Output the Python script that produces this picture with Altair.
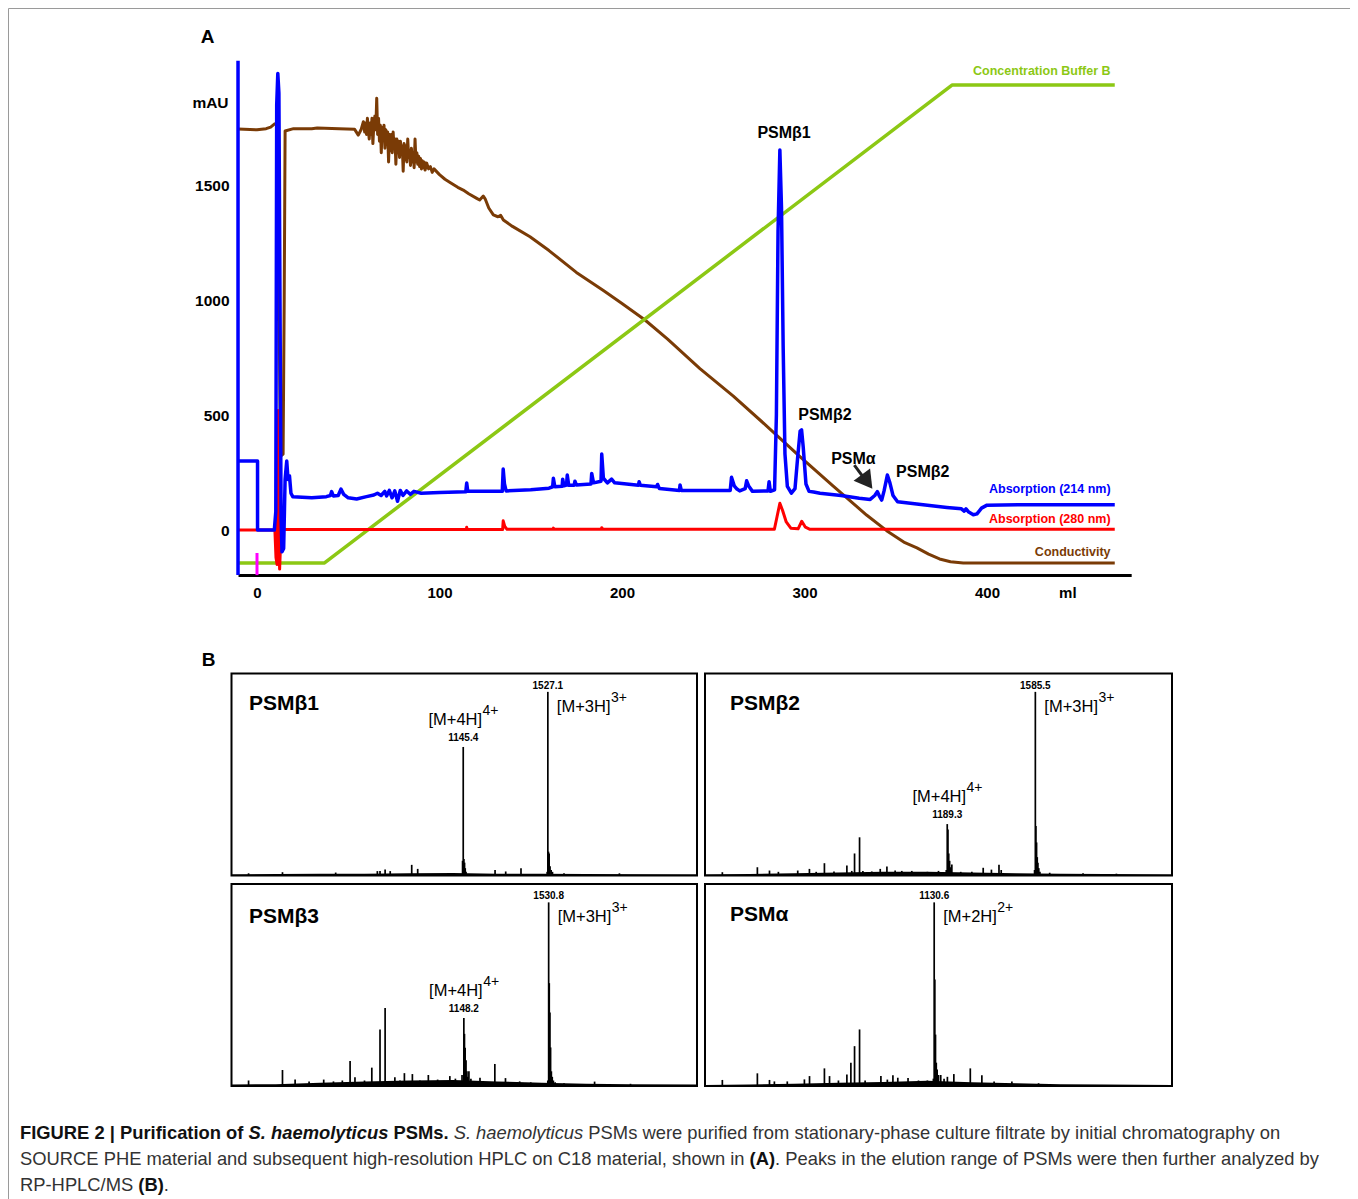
import altair as alt
import pandas as pd

FONT = "Liberation Sans"
W, H = 1342, 1196
M = 8


def cx(p):
    return p - M


def cy(p):
    return p - M


BLUE = "#0000ff"
RED = "#ff0000"
GREEN = "#8cc814"
BROWN = "#7a3b06"
MAGENTA = "#ff00ff"

# ---------------- Panel A : chromatogram ----------------
BLUE_ML = [-10.4, 0.3, 0.3, 9.5, 10.3, 10.8, 11.4, 12.0, 12.6,
           13.2, 13.7, 14.6, 15.4, 16.3, 17.0, 17.8, 18.6, 19.6, 30,
           38, 40.2, 40.9, 41.8, 44.5, 46, 47.5, 50, 54.6, 60,
           64, 66, 68, 70, 71, 72.5, 74, 75.5, 77, 78.5,
           80, 82, 84, 86, 90, 100, 114.4, 114.9, 115.5, 134.4,
           134.9, 135.6, 136.5, 150, 160, 162.0, 162.4, 163.2, 167.2, 167.5,
           168.2, 169.6, 170, 170.8, 173.8, 174.2, 175, 183, 183.4, 184.4,
           188.5, 188.9, 189.8, 192, 194.3, 196, 209, 209.4, 210, 219,
           219.5, 220.5, 231.5, 231.8, 232.5, 259.3, 260, 261.5, 263, 264.5,
           267.5, 268.3, 269.5, 271.5, 280, 280.6, 281.3, 283.6, 284.6, 285.5,
           286.5, 287.4, 288.3, 289.3, 290.6, 292.8, 294.8, 296.3, 297.6, 298.4,
           299.3, 300.8, 302.5, 305, 308.5, 320, 330, 336, 338.5, 339.9,
           341.2, 342.3, 343.6, 345.4, 346.8, 348.5, 351, 365, 378, 386,
           387.5, 388.5, 390, 392.5, 394.5, 397, 400, 420, 470]
BLUE_MAU = [300, 300, 0, 0, 80, 1850, 1985, 1900, 1000,
            50, -95, -80, 220, 300, 220, 235, 160, 145, 140,
            145, 150, 167, 148, 150, 178, 155, 140, 135, 145,
            152, 160, 150, 168, 148, 172, 140, 170, 125, 172,
            150, 170, 155, 168, 160, 163, 166, 204, 168, 168,
            265, 200, 170, 175, 182, 188, 225, 188, 190, 221,
            192, 195, 239, 195, 195, 212, 196, 200, 246, 205,
            212, 330, 225, 205, 221, 205, 195, 210, 195, 188,
            198, 180, 172, 196, 172, 172, 229, 192, 178, 170,
            180, 214, 190, 168, 170, 210, 168, 175, 500, 1300,
            1652, 1400, 800, 330, 190, 160, 180, 320, 430, 435,
            360, 200, 168, 165, 160, 150, 138, 133, 150, 167,
            145, 130, 170, 239, 205, 150, 123, 110, 98, 92,
            82, 92, 78, 66, 70, 95, 108, 110, 110]

# saturated 214 nm signal drawn as the left edge of the plot
BLUE_EDGE_ML = [-10.4]
BLUE_EDGE_FROM = [-196]
BLUE_EDGE_TO = [2040]

RED_ML = [-10.4, 9.8, 10.4, 11.0, 11.6, 12.0, 12.4, 13.2, 114.7, 114.9,
          115.2, 134.6, 134.9, 135.8, 137, 162.2, 162.4, 162.8, 188.7, 188.9,
          189.5, 283.5, 285, 286.5, 288, 290, 292.5, 296.5, 298.5, 300.5,
          303, 470]
RED_MAU = [0, 0, -120, -150, 520, -60, -170, 2, 2, 12,
           2, 2, 40, 15, 3, 3, 8, 3, 3, 10,
           3, 3, 60, 116, 85, 35, 8, 5, 38, 12,
           3, 3]

GREEN_ML = [-10.4, 37, 381, 470]
GREEN_MAU = [-143, -143, 1935, 1935]

BROWN_START_ML = [-10.4, 0, 5, 7.5, 9.5, 11.3, 12.2, 12.8, 14.3, 14.9,
                  15.4, 20, 30, 33, 45, 53.5, 55.5, 57]
BROWN_START_MAU = [1743, 1740, 1745, 1752, 1765, 1768, 900, 320, 330, 1000,
                   1735, 1745, 1745, 1748, 1745, 1742, 1717, 1740]
BROWN_NOISE_ML = [58.3, 59, 59.5, 60, 60.5, 61, 61.5, 62, 62.5, 63,
                  63.5, 64, 64.6, 65.1, 65.6, 66.1, 66.6, 67.1, 67.6, 68.1,
                  68.6, 69.1, 69.6, 70.1, 70.6, 71.1, 71.6, 72.1, 72.6, 73.1,
                  73.6, 74.1, 74.6, 75.1, 75.6, 76.1, 76.6, 77.1, 77.6, 78.1,
                  78.6, 79.1, 79.6, 80.1, 80.6, 81.1, 81.6, 82.1, 82.6, 83.1,
                  83.6, 84.1, 84.6, 85.1, 85.6, 86.1, 86.6, 87.1, 87.6, 88.1,
                  88.6, 89.1, 89.6, 90.1, 90.6, 91.1, 91.6, 92.1, 93, 94,
                  95, 96, 97]
BROWN_NOISE_MAU = [1775, 1730, 1770, 1720, 1790, 1740, 1700, 1770, 1720, 1790,
                   1680, 1760, 1800, 1740, 1877, 1720, 1790, 1690, 1760, 1640,
                   1750, 1700, 1760, 1660, 1740, 1690, 1730, 1600, 1720, 1650,
                   1720, 1640, 1730, 1660, 1700, 1590, 1700, 1640, 1690, 1620,
                   1690, 1640, 1670, 1560, 1680, 1610, 1670, 1600, 1700, 1620,
                   1650, 1585, 1660, 1600, 1640, 1575, 1700, 1600, 1640, 1590,
                   1625, 1580, 1615, 1570, 1605, 1575, 1600, 1565, 1595, 1570,
                   1580, 1555, 1570]
BROWN_END_ML = [100, 103, 106, 108, 110, 113, 116, 120.4, 122, 124,
                125, 127, 129.5, 132, 133.5, 135, 140, 149.6, 160, 175,
                190, 200, 212.6, 225, 242.7, 261, 279, 297.5, 315.6, 334,
                345, 355, 361.6, 368, 374, 380, 387, 470]
BROWN_END_MAU = [1545, 1525, 1510, 1500, 1490, 1478, 1462, 1442, 1435, 1452,
                 1440, 1400, 1370, 1362, 1368, 1348, 1320, 1275, 1215, 1120,
                 1040, 985, 913, 830, 702, 582, 454, 319, 192, 65,
                 -3, -55, -78, -105, -126, -138, -143, -143]

INJECT_ML = [0]
INJECT_FROM = [-100]
INJECT_TO = [-196]

TICKS_ML = [0, 100, 200, 300, 400]
UNIT_ML_POS = 444
TICKS_MAU = [0, 500, 1000, 1500]

PEAK_TEXT = ["PSMβ1", "PSMβ2", "PSMα", "PSMβ2"]
PEAK_TEXT_ML = [288.8, 311.2, 326.8, 364.8]
PEAK_TEXT_MAU = [1726, 500, 309, 252]

SERIES_TEXT = ["Concentration Buffer B", "Absorption (214 nm)", "Absorption (280 nm)", "Conductivity"]
SERIES_COLOR = [GREEN, BLUE, RED, BROWN]
SERIES_MAU = [1996, 178, 50, -96]
SERIES_ML = [467.7, 467.7, 467.7, 467.7]

ARROW_FROM = (327.3, 282)
ARROW_TO = (332.0, 232)
ARROW_HEAD = (334.3, 210)

# ---------------- Panel B : mass spectra ----------------
MZ_LO, MZ_HI = 100, 2200
INT_TOP = 110

B1_MZ = [177, 330, 570, 758, 770, 793, 816, 913, 940, 1142.4,
         1145.4, 1148.4, 1151.4, 1154.4, 1158, 1289, 1337, 1406, 1524, 1527.1,
         1530, 1533, 1537, 1542, 1548, 1600, 1850]
B1_INT = [1.2, 1.8, 1.6, 2.4, 2.4, 3.3, 2.4, 5.8, 3.6, 8,
          70, 9, 7, 4, 2, 3, 2.2, 4, 2, 100,
          13, 12, 5, 3, 2, 1.2, 1.2]

B2_MZ = [178, 335.5, 390, 430, 517, 569.6, 600, 637, 680, 738,
         760, 772.5, 795, 810, 850, 888, 918, 955, 985, 1030,
         1100, 1150, 1185, 1189.3, 1192.5, 1196, 1200, 1205, 1210, 1250,
         1300, 1351, 1388, 1422, 1432, 1582, 1585.5, 1588, 1591, 1594,
         1597, 1601, 1606, 1650, 1800, 1950]
B2_INT = [1.8, 4.5, 2.7, 2, 2.7, 3.6, 2.0, 6.7, 2.2, 5.4,
          2.5, 12, 20.8, 2.5, 2.2, 3.6, 4.9, 2.7, 2.5, 2.5,
          2, 2.5, 3, 28, 25, 12, 8, 4.5, 6, 2,
          2, 4.2, 3.2, 5.8, 3, 3, 100, 27, 18, 10,
          7, 4, 2, 1.5, 1.2, 1.0]

B3_MZ = [177, 330, 387, 450, 516, 560, 600, 635, 657, 700,
         733, 770, 793, 837, 860, 880, 916, 950, 988, 1030,
         1085, 1110, 1140, 1148.2, 1151, 1154, 1158, 1162, 1166, 1171,
         1180, 1221, 1288, 1336, 1400, 1450, 1527, 1530.8, 1533.5, 1536.5,
         1539.5, 1543, 1547, 1552, 1560, 1600, 1738, 1900]
B3_INT = [3, 8.7, 3.5, 2.5, 3.5, 2.5, 3, 13.6, 4.7, 3,
          10, 30.8, 42.5, 4.7, 3, 7, 6.5, 3, 6, 3.5,
          5.4, 4, 6, 37, 28.4, 20.8, 14, 8, 5, 8,
          4, 4.5, 12, 4.3, 2.5, 2, 3, 100, 56, 40,
          21, 8, 5, 3, 2, 1.5, 2.4, 1.2]

BA_MZ = [178, 335.5, 390, 412, 470, 547, 570, 637, 660, 700,
         738, 756, 772.5, 795, 820, 891, 920, 945, 967, 1013,
         1060, 1100, 1127, 1130.6, 1133.5, 1136.5, 1140, 1144, 1150, 1160,
         1175, 1190, 1219, 1293, 1345, 1400, 1480, 1600]
BA_INT = [3.3, 6.9, 3.3, 2.5, 2.5, 3.6, 5.4, 9.6, 5.4, 3,
          6.3, 12.7, 21.7, 30.8, 3, 5.4, 3.5, 5.8, 4.5, 4.3,
          3, 3, 4, 100, 58, 28, 12.7, 9, 6, 6,
          4, 5, 6.5, 9.6, 5.8, 2.5, 2.5, 1.5]

BASE_MZ = [100, 300, 500, 700, 900, 1100, 1300, 1500, 1700, 1900, 2200]
B1_BASE = [0.6, 0.8, 0.9, 1.0, 1.2, 1.4, 1.0, 1.0, 0.8, 0.7, 0.6]
B2_BASE = [0.6, 0.8, 1.2, 1.6, 2.0, 2.0, 1.6, 1.2, 1.0, 0.8, 0.6]
B3_BASE = [0.8, 1.0, 1.8, 2.5, 3.0, 3.2, 2.5, 1.8, 1.2, 1.0, 0.8]
BA_BASE = [0.6, 0.8, 1.2, 1.8, 2.2, 2.8, 2.0, 1.5, 1.0, 0.8, 0.6]

# annotated peaks: (m/z, intensity, value label, ion, charge, placement)
B1_ANN = [(1527.1, 100, "1527.1", "[M+3H]", "3+", "right"),
          (1145.4, 70, "1145.4", "[M+4H]", "4+", "center")]
B2_ANN = [(1585.5, 100, "1585.5", "[M+3H]", "3+", "right"),
          (1189.3, 28, "1189.3", "[M+4H]", "4+", "center")]
B3_ANN = [(1530.8, 100, "1530.8", "[M+3H]", "3+", "right"),
          (1148.2, 37, "1148.2", "[M+4H]", "4+", "center")]
BA_ANN = [(1130.6, 100, "1130.6", "[M+2H]", "2+", "right")]

BROWN_ML = BROWN_START_ML + BROWN_NOISE_ML + BROWN_END_ML
BROWN_MAU = BROWN_START_MAU + BROWN_NOISE_MAU + BROWN_END_MAU

for a, b in [(BLUE_ML, BLUE_MAU), (RED_ML, RED_MAU), (BROWN_ML, BROWN_MAU), (GREEN_ML, GREEN_MAU),
             (B1_MZ, B1_INT), (B2_MZ, B2_INT), (B3_MZ, B3_INT), (BA_MZ, BA_INT)]:
    assert len(a) == len(b)

# ---------------- caption ----------------
CAPTION = [
    [("FIGURE 2 | Purification of ", True, False), ("S. haemolyticus", True, True), (" PSMs.", True, False),
     (" ", False, False), ("S. haemolyticus", False, True),
     (" PSMs were purified from stationary-phase culture filtrate by initial chromatography on", False, False)],
    [("SOURCE PHE material and subsequent high-resolution HPLC on C18 material, shown in ", False, False),
     ("(A)", True, False), (". Peaks in the elution range of PSMs were then further analyzed by", False, False)],
    [("RP-HPLC/MS ", False, False), ("(B)", True, False), (".", False, False)],
]

# ---------------- text metrics (Arial / Liberation Sans) ----------------
REG_W = {c: 556 for c in "0123456789"}
REG_W.update({' ': 278, '!': 278, '(': 333, ')': 333, '+': 584, ',': 278, '-': 333, '.': 278, '/': 278,
              ':': 278, '[': 278, ']': 278, '|': 260,
              'A': 667, 'B': 667, 'C': 722, 'D': 722, 'E': 667, 'F': 611, 'G': 778, 'H': 722, 'I': 278,
              'J': 500, 'K': 667, 'L': 556, 'M': 833, 'N': 722, 'O': 778, 'P': 667, 'Q': 778, 'R': 722,
              'S': 667, 'T': 611, 'U': 722, 'V': 667, 'W': 944, 'X': 667, 'Y': 667, 'Z': 611,
              'a': 556, 'b': 556, 'c': 500, 'd': 556, 'e': 556, 'f': 278, 'g': 556, 'h': 556, 'i': 222,
              'j': 222, 'k': 500, 'l': 222, 'm': 833, 'n': 556, 'o': 556, 'p': 556, 'q': 556, 'r': 333,
              's': 500, 't': 278, 'u': 556, 'v': 500, 'w': 722, 'x': 500, 'y': 500, 'z': 500})
BOLD_W = dict(REG_W)
BOLD_W.update({'!': 333, ':': 333, '[': 333, ']': 333, '|': 280, 'A': 722, 'B': 722, 'J': 556, 'K': 722,
               'L': 611, 'b': 611, 'c': 556, 'd': 611, 'f': 333, 'g': 611, 'h': 611, 'i': 278, 'j': 278,
               'k': 556, 'l': 278, 'm': 889, 'n': 611, 'o': 611, 'p': 611, 'q': 611, 'r': 389, 's': 556,
               't': 333, 'u': 611, 'v': 556, 'w': 778, 'x': 556, 'y': 556})


def text_w(s, bold, fs):
    tbl = BOLD_W if bold else REG_W
    return sum(tbl.get(c, 556) for c in s) * fs / 1000.0


layers = []

# ================= Panel A =================
A_X0, A_KX = 257, 1.825
A_Y0, A_KY = 530, 0.23
XA = alt.Scale(domain=[-10.4, 479], range=[cx(A_X0 - 10.4 * A_KX), cx(A_X0 + 479 * A_KX)], nice=False, zero=False)
YA = alt.Scale(domain=[0, 1500], range=[cy(A_Y0), cy(A_Y0 - 1500 * A_KY)], nice=False, zero=False)

X_AXIS = alt.Axis(values=TICKS_ML + [UNIT_ML_POS],
                  labelExpr="datum.value == %d ? 'ml' : datum.label" % UNIT_ML_POS,
                  orient="bottom", offset=cy(575) - H, domainColor="black", domainWidth=3,
                  ticks=False, labelFontSize=15, labelFontWeight="bold", labelFont=FONT,
                  labelColor="black", labelPadding=10, grid=False, title=None,
                  labelOverlap=False, labelFlush=False, format="d")
Y_AXIS = alt.Axis(values=TICKS_MAU, orient="left", offset=-cx(229), domain=False, ticks=False,
                  tickSize=0, labelPadding=0, labelFontSize=15.5, labelFontWeight="bold",
                  labelFont=FONT, labelColor="black", grid=False, title=None,
                  labelOverlap=False, labelFlush=False, format="d")


def ax_x(f="ml:Q", axis=None):
    return alt.X(f, scale=XA, axis=axis)


def ax_y(f="mau:Q", axis=None):
    return alt.Y(f, scale=YA, axis=axis)


def trace(ml, mau, color, width, with_axes=False):
    df = pd.DataFrame({"ml": ml, "mau": mau, "i": list(range(len(ml)))})
    return alt.Chart(df).mark_line(color=color, strokeWidth=width, strokeJoin="round").encode(
        x=ax_x(axis=X_AXIS if with_axes else None),
        y=ax_y(axis=Y_AXIS if with_axes else None),
        order=alt.Order("i:Q"))


layers.append(trace(BROWN_ML, BROWN_MAU, BROWN, 3))
layers.append(trace(GREEN_ML, GREEN_MAU, GREEN, 3.5))
layers.append(trace(RED_ML, RED_MAU, RED, 3))
layers.append(trace(BLUE_ML, BLUE_MAU, BLUE, 3.5, with_axes=True))
layers.append(alt.Chart(pd.DataFrame({"ml": BLUE_EDGE_ML, "a": BLUE_EDGE_FROM, "b": BLUE_EDGE_TO}))
              .mark_rule(color=BLUE, strokeWidth=3.5)
              .encode(x=ax_x(), y=ax_y("a:Q"), y2="b:Q"))

layers.append(alt.Chart(pd.DataFrame({"ml": INJECT_ML, "a": INJECT_FROM, "b": INJECT_TO}))
              .mark_rule(color=MAGENTA, strokeWidth=3)
              .encode(x=ax_x(), y=ax_y("a:Q"), y2="b:Q"))

# arrow toward PSMalpha
layers.append(alt.Chart(pd.DataFrame({"ml": [ARROW_FROM[0]], "mau": [ARROW_FROM[1]],
                                      "ml2": [ARROW_TO[0]], "mau2": [ARROW_TO[1]]}))
              .mark_rule(color="#222222", strokeWidth=3)
              .encode(x=ax_x(), y=ax_y(), x2="ml2:Q", y2="mau2:Q"))
layers.append(alt.Chart(pd.DataFrame({"ml": [ARROW_HEAD[0]], "mau": [ARROW_HEAD[1]]}))
              .mark_point(shape="triangle-up", filled=True, size=420, angle=143.6, color="#222222", opacity=1)
              .encode(x=ax_x(), y=ax_y()))

layers.append(alt.Chart(pd.DataFrame({"ml": PEAK_TEXT_ML, "mau": PEAK_TEXT_MAU, "t": PEAK_TEXT}))
              .mark_text(font=FONT, fontSize=16, fontWeight="bold", color="black", align="center", baseline="middle")
              .encode(x=ax_x(), y=ax_y(), text="t:N"))

layers.append(alt.Chart(pd.DataFrame({"ml": SERIES_ML, "mau": SERIES_MAU, "t": SERIES_TEXT, "c": SERIES_COLOR}))
              .mark_text(font=FONT, fontSize=12.5, fontWeight="bold", align="right", baseline="middle")
              .encode(x=ax_x(), y=ax_y(), text="t:N", color=alt.Color("c:N", scale=None)))

layers.append(alt.Chart(pd.DataFrame({"ml": [-25.5], "mau": [1857], "t": ["mAU"]}))
              .mark_text(font=FONT, fontSize=15.5, fontWeight="bold", color="black", align="center", baseline="middle")
              .encode(x=ax_x(), y=ax_y(), text="t:N"))

# panel letters
layers.append(alt.Chart(pd.DataFrame({"px": [cx(207.5), cx(208.5)], "py": [cy(37), cy(660)], "t": ["A", "B"]}))
              .mark_text(font=FONT, fontSize=19, fontWeight="bold", color="black", align="center", baseline="middle")
              .encode(x=alt.X("px:Q", scale=None, axis=None), y=alt.Y("py:Q", scale=None, axis=None), text="t:N"))

# ================= Panel B =================
GEOM = {
    "b1": (231.5, 697, 673.5, 875.5, 17.5, 30),
    "b2": (705, 1172, 673.5, 875.5, 25, 30),
    "b3": (231.5, 697, 884, 1086, 17.5, 33),
    "ba": (705, 1172, 884, 1086, 25, 31),
}
ION_FS, SUP_FS = 16.5, 14


def spectrum(key, name, mz, inten, base, ann):
    l, r, t, b, ndx, ndy = GEOM[key]
    XS = alt.Scale(domain=[MZ_LO, MZ_HI], range=[cx(l), cx(r)], nice=False, zero=False)
    YS = alt.Scale(domain=[0, INT_TOP], range=[cy(b), cy(t)], nice=False, zero=False)
    kx = (r - l) / (MZ_HI - MZ_LO)
    ky = (b - t) / INT_TOP

    def enc_xy(xf, yf):
        return dict(x=alt.X(xf, type="quantitative", scale=XS, axis=None),
                    y=alt.Y(yf, type="quantitative", scale=YS, axis=None))

    out = []
    out.append(alt.Chart(pd.DataFrame({"mz": BASE_MZ, "h": base, "z": [0] * len(BASE_MZ)}))
               .mark_area(color="black").encode(y2="z:Q", **enc_xy("mz", "h")))
    out.append(alt.Chart(pd.DataFrame({"mz": mz, "h": inten, "z": [0] * len(mz)}))
               .mark_rule(color="black", strokeWidth=1.7).encode(y2="z:Q", **enc_xy("mz", "h")))
    out.append(alt.Chart(pd.DataFrame({"x0": [MZ_LO], "x1": [MZ_HI], "y0": [0], "y1": [INT_TOP]}))
               .mark_rect(fillOpacity=0, stroke="black", strokeWidth=2)
               .encode(x2="x1:Q", y2="y1:Q", **enc_xy("x0", "y0")))
    out.append(alt.Chart(pd.DataFrame({"mz": [MZ_LO + ndx / kx], "h": [INT_TOP - ndy / ky], "t": [name]}))
               .mark_text(font=FONT, fontSize=21, fontWeight="bold", color="black", align="left", baseline="middle")
               .encode(text="t:N", **enc_xy("mz", "h")))

    num_rows, ion_rows, sup_rows = [], [], []
    for (pmz, ph, num, ion, sup, mode) in ann:
        wi = text_w(ion, False, ION_FS)
        if mode == "right":
            num_rows.append((pmz, ph + 6 / ky, num))
            bl = pmz + 9 / kx
            by = ph - 15 / ky
        else:
            num_rows.append((pmz, ph + 9 / ky, num))
            total = wi + text_w(sup, False, SUP_FS)
            bl = pmz - (total / 2) / kx
            by = ph + 27 / ky
        ion_rows.append((bl, by, ion))
        sup_rows.append((bl + (wi + 0.5) / kx, by + 9 / ky, sup))

    def tdf(rows):
        return pd.DataFrame({"mz": [q[0] for q in rows], "h": [q[1] for q in rows], "t": [q[2] for q in rows]})

    out.append(alt.Chart(tdf(num_rows))
               .mark_text(font=FONT, fontSize=10, fontWeight="bold", color="black", align="center", baseline="middle")
               .encode(text="t:N", **enc_xy("mz", "h")))
    out.append(alt.Chart(tdf(ion_rows))
               .mark_text(font=FONT, fontSize=ION_FS, color="black", align="left", baseline="middle")
               .encode(text="t:N", **enc_xy("mz", "h")))
    out.append(alt.Chart(tdf(sup_rows))
               .mark_text(font=FONT, fontSize=SUP_FS, color="black", align="left", baseline="middle")
               .encode(text="t:N", **enc_xy("mz", "h")))
    return out


layers += spectrum("b1", "PSMβ1", B1_MZ, B1_INT, B1_BASE, B1_ANN)
layers += spectrum("b2", "PSMβ2", B2_MZ, B2_INT, B2_BASE, B2_ANN)
layers += spectrum("b3", "PSMβ3", B3_MZ, B3_INT, B3_BASE, B3_ANN)
layers += spectrum("ba", "PSMα", BA_MZ, BA_INT, BA_BASE, BA_ANN)

# ================= Caption =================
CAP_LEFT, CAP_RIGHT = 20, 1319
CAP_Y = [1133, 1159, 1185]
line_em = [sum(text_w(s, bd, 1.0) for (s, bd, it) in line) for line in CAPTION]
CAP_FS = (CAP_RIGHT - CAP_LEFT) / max(line_em)

cap_rows = {}
for li, line in enumerate(CAPTION):
    xpos = CAP_LEFT
    for (s, bd, it) in line:
        lead = len(s) - len(s.lstrip(" "))
        trail = len(s) - len(s.rstrip(" "))
        core = s.strip(" ")
        xpos += lead * text_w(" ", bd, CAP_FS)
        if core:
            cap_rows.setdefault((bd, it), []).append((cx(xpos), cy(CAP_Y[li]), core))
            xpos += text_w(core, bd, CAP_FS)
        if trail and core:
            xpos += trail * text_w(" ", bd, CAP_FS)

for (bd, it), rows in cap_rows.items():
    df = pd.DataFrame({"px": [q[0] for q in rows], "py": [q[1] for q in rows], "t": [q[2] for q in rows]})
    layers.append(alt.Chart(df).mark_text(font=FONT, fontSize=CAP_FS, fontWeight="bold" if bd else "normal",
                                          fontStyle="italic" if it else "normal",
                                          color="#111111" if bd else "#333333",
                                          align="left", baseline="middle")
                  .encode(x=alt.X("px:Q", scale=None, axis=None), y=alt.Y("py:Q", scale=None, axis=None),
                          text="t:N"))

chart = (alt.layer(*layers)
         .resolve_scale(x="independent", y="independent")
         .properties(width=W, height=H, autosize=alt.AutoSizeParams(type="none"), padding=0)
         .configure(font=FONT)
         .configure_view(stroke="#9a9a9a", strokeWidth=1))

chart.save("out.html", embed_options={"renderer": "svg", "actions": False})
